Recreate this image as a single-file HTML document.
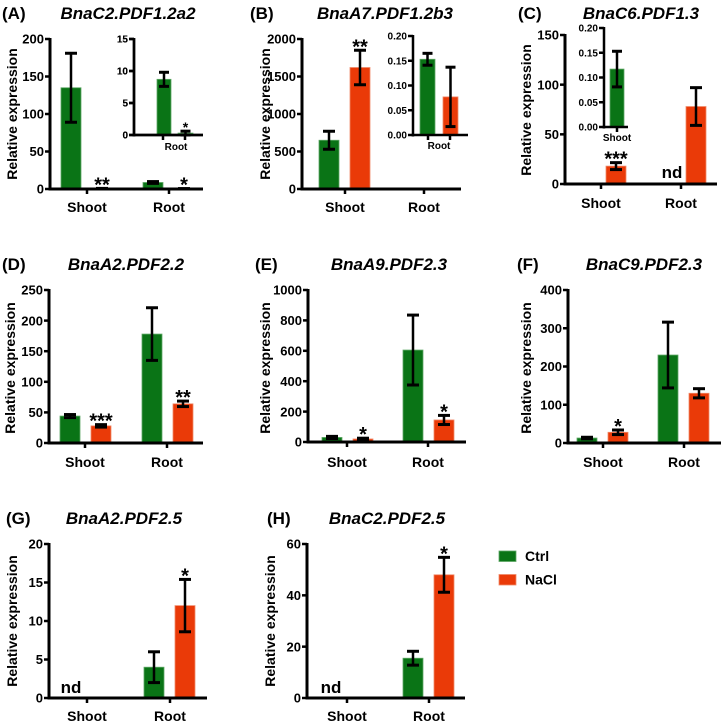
<!DOCTYPE html>
<html><head><meta charset="utf-8">
<style>
html,body{margin:0;padding:0;background:#fff;}
svg{display:block;font-family:"Liberation Sans",Arial,sans-serif;font-weight:bold;}
</style></head>
<body>
<svg id="fig" width="722" height="726" viewBox="0 0 722 726" xmlns="http://www.w3.org/2000/svg"></svg>
<script>
// ---- data (means, error half-widths; null = not detected) ----
const categories = ["Shoot","Root"];
const aCtrl=[135,8.7], aCtrlErr=[46,1.2], aNacl=[0.5,0.3], aNaclErr=[0.3,0.3], aNote=["","","**","*"];
const aInsetCtrl=[8.7], aInsetCtrlErr=[1.1], aInsetNacl=[0.3], aInsetNaclErr=[0.3], aInsetNote=["","*"];
const bCtrl=[650,0.15], bCtrlErr=[120,0.01], bNacl=[1620,0.08], bNaclErr=[230,0.06], bNote=["","","**",""];
const bInsetCtrl=[0.153], bInsetCtrlErr=[0.012], bInsetNacl=[0.077], bInsetNaclErr=[0.06], bInsetNote=["",""];
const cCtrl=[0.117,null], cCtrlErr=[0.036,0], cNacl=[18,78], cNaclErr=[3.5,19], cNote=["","nd","***",""];
const cInsetCtrl=[0.117], cInsetCtrlErr=[0.036], cInsetNote=[""];
const dCtrl=[44,178], dCtrlErr=[2.5,43], dNacl=[28,64], dNaclErr=[2,4.5], dNote=["","","***","**"];
const eCtrl=[30,605], eCtrlErr=[7,230], eNacl=[20,145], eNaclErr=[5,30], eNote=["","","*","*"];
const fCtrl=[13,230], fCtrlErr=[2,86], fNacl=[28,130], fNaclErr=[6,12], fNote=["","","*",""];
const gCtrl=[null,4], gCtrlErr=[0,2], gNacl=[null,12], gNaclErr=[0,3.4], gNote=["nd","","","*"];
const hCtrl=[null,15.5], hCtrlErr=[0,2.7], hNacl=[null,48], hNaclErr=[0,6.8], hNote=["nd","","","*"];
const legendLabels=["Ctrl","NaCl"];

const GREEN="#0a7416", RED="#ea3a08", GS="#5fa866", RS="#f08a6a";
const svg=document.getElementById('fig');
const NS="http://www.w3.org/2000/svg";
function mk(tag,attrs,parent){const e=document.createElementNS(NS,tag);for(const k in attrs)e.setAttribute(k,attrs[k]);(parent||svg).appendChild(e);return e;}
function txt(s,x,y,size,anchor,parent,extra){const t=mk('text',Object.assign({x:x,y:y,'font-size':size,'text-anchor':anchor||'middle',fill:'#000'},extra||{}),parent);t.textContent=s;return t;}

function errbar(g,x,y1,y2,cap){
  const e=mk('g',{},g);
  
  
  mk('line',{x1:x,x2:x,y1:y1,y2:y2,stroke:'#000','stroke-width':2.5},e);
  mk('line',{x1:x-cap,x2:x+cap,y1:y1,y2:y1,stroke:'#000','stroke-width':3},e);
  mk('line',{x1:x-cap,x2:x+cap,y1:y2,y2:y2,stroke:'#000','stroke-width':3},e);
}

function panel(p){
  const g=mk('g',{});
  
  
  const y=v=>p.zero-(v/p.max)*(p.zero-p.top);
  const n=p.centers.length;
  const series=[[p.ctrl,p.ctrlErr,GREEN,GS,p.gOff,'ctrl'],[p.nacl,p.naclErr,RED,RS,p.rOff,'nacl']];
  series.forEach((s,si)=>{
    if(!s[0])return;
    s[0].forEach((v,i)=>{
      const c=p.centers[i]+s[4];
      const note=p.notes?(p.notes[si*n+i]||""):"";
      if(v===null){
        if(note){const t=txt(note,c+p.bw/2,p.zero-5,p.noteSize||17,'middle',g);
          
          }
        return;}
      const yt=y(v);
      const r=mk('rect',{x:c,y:Math.min(yt,p.zero-1),width:p.bw,height:Math.max(1,p.zero-yt),fill:s[2],stroke:s[3],'stroke-width':0.8},g);
      
      
      const e=s[1][i];
      let top=yt;
      if(e>0){const y1=y(v+e),y2=Math.min(y(Math.max(v-e,0)),p.zero);top=y1;errbar(g,c+p.bw/2,y1,y2,p.cap||6);}
      if(note){const star=note.indexOf('*')>=0;
        const t=txt(note,c+p.bw/2,top-3+(star?(p.starShift!==undefined?p.starShift:6):0),star?(p.starSize||20):(p.noteSize||17),'middle',g);
        
        }
    });
  });
  const ax=mk('line',{x1:p.ax,x2:p.ax,y1:p.top-1,y2:p.zero+1.5,stroke:'#000','stroke-width':p.sw||3},g);
  
  
  const xx=mk('line',{x1:p.ax-1.5,x2:p.end,y1:p.zero,y2:p.zero,stroke:'#000','stroke-width':p.sw||3},g);
  
  
  for(let v=0;v<=p.max+1e-9;v+=p.step){
    const yy=y(v);
    mk('line',{x1:p.ax-5,x2:p.ax,y1:yy,y2:yy,stroke:'#000','stroke-width':2.5},g);
    const lab=p.fmt?p.fmt(v):String(Math.round(v));
    const t=txt(lab,p.ax-6,yy+(p.fs||13)*0.36,p.fs||13,'end',g);
    
    
  }
  p.xticks.forEach(xv=>mk('line',{x1:xv,x2:xv,y1:p.zero,y2:p.zero+5,stroke:'#000','stroke-width':2.5},g));
  p.cats.forEach((c,i)=>{const t=txt(c,p.labelX[i],p.labelY,p.lfs||14,'middle',g);
    
    });
  if(p.ylabel){const t=txt('Relative expression',0,0,14,'middle',g,{transform:'translate('+p.ylabel[0]+','+p.ylabel[1]+') rotate(-90)'});
    
    }
  if(p.letter){const t=txt(p.letter,p.letterX,p.titleY,17,'start',g);
    
    
    const t2=txt(p.title,p.titleX,p.titleY,17,'middle',g,{'font-style':'italic'});
    
    }
}

const base={bw:20,gOff:-26,rOff:5,cap:6};
// Panel A
panel(Object.assign({},base,{name:'panel-a',ax:50,end:203,top:39,zero:189,max:200,step:50,ctrl:aCtrl,ctrlErr:aCtrlErr,nacl:aNacl,naclErr:aNaclErr,notes:aNote,
  centers:[87,169],xticks:[87,169],cats:categories,labelX:[87,169],labelY:212,ylabel:[17,114],letter:'(A)',letterX:2,title:'BnaC2.PDF1.2a2',titleX:128,titleY:19}));
panel(Object.assign({},base,{name:'panel-a-inset',ax:134,end:203,top:39,zero:135,max:15,step:5,bw:14,gOff:0,rOff:0,cap:5,sw:2.5,fs:10,lfs:10,
  ctrl:aInsetCtrl,ctrlErr:aInsetCtrlErr,nacl:null,naclErr:null,notes:null,centers:[157],xticks:[163,185],cats:['Root'],labelX:[176],labelY:150}));
panel(Object.assign({},base,{name:'panel-a-inset-nacl',ax:134,end:203,top:39,zero:135,max:15,step:5,bw:15,gOff:0,rOff:0,cap:5,sw:2.5,fs:10,
  ctrl:aInsetNacl,ctrlErr:aInsetNaclErr,nacl:null,notes:aInsetNote.slice(1),centers:[178],xticks:[],cats:[],labelX:[],labelY:0,starSize:14,starShift:4}));
// Panel B
panel(Object.assign({},base,{name:'panel-b',ax:302,end:461,top:39,zero:189,max:2000,step:500,ctrl:bCtrl.slice(0,1),ctrlErr:bCtrlErr,nacl:bNacl.slice(0,1),naclErr:bNaclErr,notes:["","**"],
  centers:[345],xticks:[345,424],cats:categories,labelX:[345,424],labelY:212,ylabel:[270,114],letter:'(B)',letterX:250,title:'BnaA7.PDF1.2b3',titleX:385,titleY:19}));
panel(Object.assign({},base,{name:'panel-b-inset',ax:413,end:468,top:36,zero:135,max:0.2,step:0.05,bw:15,gOff:0,rOff:23,cap:5,sw:2.5,fs:10,lfs:10,fmt:v=>v.toFixed(2),
  ctrl:bInsetCtrl,ctrlErr:bInsetCtrlErr,nacl:bInsetNacl,naclErr:bInsetNaclErr,notes:null,centers:[420],xticks:[428,450],cats:['Root'],labelX:[439],labelY:149}));
// Panel C
panel(Object.assign({},base,{name:'panel-c',ax:565,end:717,top:35,zero:184,max:150,step:50,ctrl:null,nacl:cNacl,naclErr:cNaclErr,notes:cNote,
  centers:[601,681],xticks:[601,681],cats:categories,labelX:[601,681],labelY:208,ylabel:[531,110],letter:'(C)',letterX:518,title:'BnaC6.PDF1.3',titleX:641,titleY:19}));
const ndC=txt('nd',672,178,17,'middle');


panel(Object.assign({},base,{name:'panel-c-inset',ax:604,end:628,top:28,zero:127,max:0.2,step:0.05,bw:14,gOff:0,rOff:0,cap:5,sw:2.5,fs:10,lfs:10,fmt:v=>v.toFixed(2),
  ctrl:cInsetCtrl,ctrlErr:cInsetCtrlErr,nacl:null,notes:null,centers:[610],xticks:[617],cats:['Shoot'],labelX:[617],labelY:141}));
// Panel D
panel(Object.assign({},base,{name:'panel-d',ax:49,end:203,top:290,zero:443,max:250,step:50,ctrl:dCtrl,ctrlErr:dCtrlErr,nacl:dNacl,naclErr:dNaclErr,notes:dNote,
  centers:[86,168],xticks:[85,167],cats:categories,labelX:[85,167],labelY:467,ylabel:[15,368],letter:'(D)',letterX:2,title:'BnaA2.PDF2.2',titleX:126,titleY:270}));
// Panel E
panel(Object.assign({},base,{name:'panel-e',ax:308,end:466,top:290,zero:442,max:1000,step:200,ctrl:eCtrl,ctrlErr:eCtrlErr,nacl:eNacl,naclErr:eNaclErr,notes:eNote,
  centers:[348,429],xticks:[347,428],cats:categories,labelX:[347,428],labelY:467,ylabel:[270,368],letter:'(E)',letterX:255,title:'BnaA9.PDF2.3',titleX:389,titleY:270}));
// Panel F
panel(Object.assign({},base,{name:'panel-f',ax:568,end:721,top:290,zero:443,max:400,step:100,ctrl:fCtrl,ctrlErr:fCtrlErr,nacl:fNacl,naclErr:fNaclErr,notes:fNote,
  centers:[603,684],xticks:[603,684],cats:categories,labelX:[603,684],labelY:467,ylabel:[531,368],letter:'(F)',letterX:517,title:'BnaC9.PDF2.3',titleX:644,titleY:270}));
// Panel G
panel(Object.assign({},base,{name:'panel-g',ax:49,end:207,top:544,zero:698,max:20,step:5,ctrl:gCtrl,ctrlErr:gCtrlErr,nacl:gNacl,naclErr:gNaclErr,notes:gNote,
  centers:[87,170],xticks:[87,170],cats:categories,labelX:[87,170],labelY:721,ylabel:[17,621],letter:'(G)',letterX:6,title:'BnaA2.PDF2.5',titleX:124,titleY:524}));
// Panel H
panel(Object.assign({},base,{name:'panel-h',ax:307,end:465,top:544,zero:698,max:60,step:20,ctrl:hCtrl,ctrlErr:hCtrlErr,nacl:hNacl,naclErr:hNaclErr,notes:hNote,
  centers:[347,429],xticks:[347,429],cats:categories,labelX:[347,429],labelY:721,ylabel:[275,621],letter:'(H)',letterX:267,title:'BnaC2.PDF2.5',titleX:387,titleY:524}));

// Legend
const lg=mk('g',{});


[GREEN,RED].forEach((c,i)=>{
  const yy=551+i*23.5;
  const r=mk('rect',{x:499,y:yy,width:17,height:10.5,fill:c,stroke:i?RS:GS,'stroke-width':0.8},lg);
  
  
  const t=txt(legendLabels[i],525,yy+10,14,'start',lg);
  
  
});
</script>
</body></html>
